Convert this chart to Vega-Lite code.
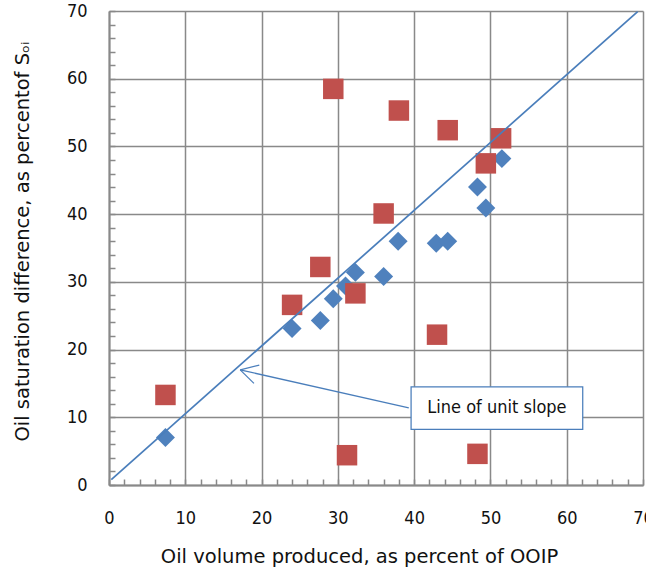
{
  "$schema": "https://vega.github.io/schema/vega-lite/v6.json",
  "width": 534,
  "height": 474,
  "autosize": "none",
  "padding": {"left": 109, "top": 11, "right": 3, "bottom": 90},
  "background": "white",
  "config": {"view": {"stroke": null}, "font": "DejaVu Sans Condensed, Liberation Sans, sans-serif"},
  "datasets": {
    "points": [
      {"series": "blue", "x": 7.4, "y": 7.0},
      {"series": "blue", "x": 24.0, "y": 23.1},
      {"series": "blue", "x": 27.7, "y": 24.3},
      {"series": "blue", "x": 29.4, "y": 27.5},
      {"series": "blue", "x": 31.0, "y": 29.4},
      {"series": "blue", "x": 32.3, "y": 31.4},
      {"series": "blue", "x": 36.0, "y": 30.8},
      {"series": "blue", "x": 37.9, "y": 36.0},
      {"series": "blue", "x": 42.9, "y": 35.7},
      {"series": "blue", "x": 44.4, "y": 36.0},
      {"series": "blue", "x": 48.3, "y": 44.0},
      {"series": "blue", "x": 49.4, "y": 40.9},
      {"series": "blue", "x": 51.5, "y": 48.2},
      {"series": "red", "x": 7.4, "y": 13.3},
      {"series": "red", "x": 24.0, "y": 26.6},
      {"series": "red", "x": 27.7, "y": 32.2},
      {"series": "red", "x": 29.4, "y": 58.5},
      {"series": "red", "x": 31.2, "y": 4.4},
      {"series": "red", "x": 32.3, "y": 28.3},
      {"series": "red", "x": 36.0, "y": 40.1},
      {"series": "red", "x": 38.0, "y": 55.3},
      {"series": "red", "x": 43.0, "y": 22.2},
      {"series": "red", "x": 44.4, "y": 52.4},
      {"series": "red", "x": 48.3, "y": 4.6},
      {"series": "red", "x": 49.4, "y": 47.5},
      {"series": "red", "x": 51.4, "y": 51.2}
    ],
    "unitline": [
      {"x": 0.3, "y": 0.8},
      {"x": 69.3, "y": 69.9}
    ],
    "arrow": [
      {"x": 39.3, "y": 11.4, "x2": 17.2, "y2": 17.0},
      {"x": 17.2, "y": 17.0, "x2": 19.7, "y2": 17.7},
      {"x": 17.2, "y": 17.0, "x2": 19.0, "y2": 15.0}
    ],
    "box": [
      {"x": 39.6, "x2": 62.1, "y": 8.2, "y2": 14.5, "label": "Line of unit slope", "cx": 50.85, "cy": 11.35}
    ]
  },
  "layer": [
    {
      "data": {"name": "points"},
      "mark": {"type": "point", "filled": true, "opacity": 1},
      "encoding": {
        "x": {
          "field": "x", "type": "quantitative",
          "scale": {"domain": [0, 70], "nice": false, "zero": false},
          "axis": {
            "values": [0,2,4,6,8,10,12,14,16,18,20,22,24,26,28,30,32,34,36,38,40,42,44,46,48,50,52,54,56,58,60,62,64,66,68,70],
            "tickCount": 100,
            "format": "d",
            "labelOverlap": false,
            "labelExpr": "datum.value % 10 === 0 ? datum.label : ''",
            "gridOpacity": {"condition": {"test": "datum.value % 10 === 0", "value": 1}, "value": 0},
            "gridColor": "#898989", "gridWidth": 1.5,
            "domainColor": "#898989", "domainWidth": 2,
            "tickColor": "#898989", "tickWidth": 1.5, "tickSize": -6,
            "labelFontSize": 18, "labelColor": "#111", "labelPadding": 30, "labelFlush": false,
            "title": "Oil volume produced, as percent of OOIP",
            "titleFont": "DejaVu Sans, Liberation Sans, sans-serif",
            "titleFontSize": 19.5, "titleFontWeight": "normal", "titleColor": "#111", "titlePadding": 20,
            "titleX": 250
          }
        },
        "y": {
          "field": "y", "type": "quantitative",
          "scale": {"domain": [0, 70], "nice": false, "zero": false},
          "axis": {
            "values": [0,2,4,6,8,10,12,14,16,18,20,22,24,26,28,30,32,34,36,38,40,42,44,46,48,50,52,54,56,58,60,62,64,66,68,70],
            "tickCount": 100,
            "format": "d",
            "labelOverlap": false,
            "labelExpr": "datum.value % 10 === 0 ? datum.label : ''",
            "gridOpacity": {"condition": {"test": "datum.value % 10 === 0", "value": 1}, "value": 0},
            "gridColor": "#898989", "gridWidth": 1.5,
            "domainColor": "#898989", "domainWidth": 2,
            "tickColor": "#898989", "tickWidth": 1.5, "tickSize": -6,
            "labelFontSize": 18, "labelColor": "#111", "labelPadding": 28, "labelFlush": false,
            "title": "Oil saturation difference, as percentof Sₒᵢ",
            "titleFont": "DejaVu Sans, Liberation Sans, sans-serif",
            "titleFontSize": 19.5, "titleFontWeight": "normal", "titleColor": "#111", "titlePadding": 34,
            "titleY": 230
          }
        },
        "color": {"field": "series", "type": "nominal", "scale": {"domain": ["blue", "red"], "range": ["#4F81BD", "#C0504D"]}, "legend": null},
        "shape": {"field": "series", "type": "nominal", "scale": {"domain": ["blue", "red"], "range": ["diamond", "square"]}, "legend": null},
        "size": {"field": "series", "type": "nominal", "scale": {"domain": ["blue", "red"], "range": [360, 420]}, "legend": null},
        "order": {"field": "series", "type": "nominal"}
      }
    },
    {
      "data": {"name": "unitline"},
      "mark": {"type": "line", "color": "#4A7EBB", "strokeWidth": 1.75},
      "encoding": {
        "x": {"field": "x", "type": "quantitative"},
        "y": {"field": "y", "type": "quantitative"}
      }
    },
    {
      "data": {"name": "arrow"},
      "mark": {"type": "rule", "color": "#4A7EBB", "strokeWidth": 1.25},
      "encoding": {
        "x": {"field": "x", "type": "quantitative"},
        "y": {"field": "y", "type": "quantitative"},
        "x2": {"field": "x2"},
        "y2": {"field": "y2"}
      }
    },
    {
      "data": {"name": "box"},
      "mark": {"type": "rect", "fill": "white", "stroke": "#4A7EBB", "strokeWidth": 1.25},
      "encoding": {
        "x": {"field": "x", "type": "quantitative"},
        "x2": {"field": "x2"},
        "y": {"field": "y", "type": "quantitative"},
        "y2": {"field": "y2"}
      }
    },
    {
      "data": {"name": "box"},
      "mark": {"type": "text", "fontSize": 18, "color": "#111", "align": "center", "baseline": "middle"},
      "encoding": {
        "x": {"field": "cx", "type": "quantitative"},
        "y": {"field": "cy", "type": "quantitative"},
        "text": {"field": "label"}
      }
    }
  ]
}
